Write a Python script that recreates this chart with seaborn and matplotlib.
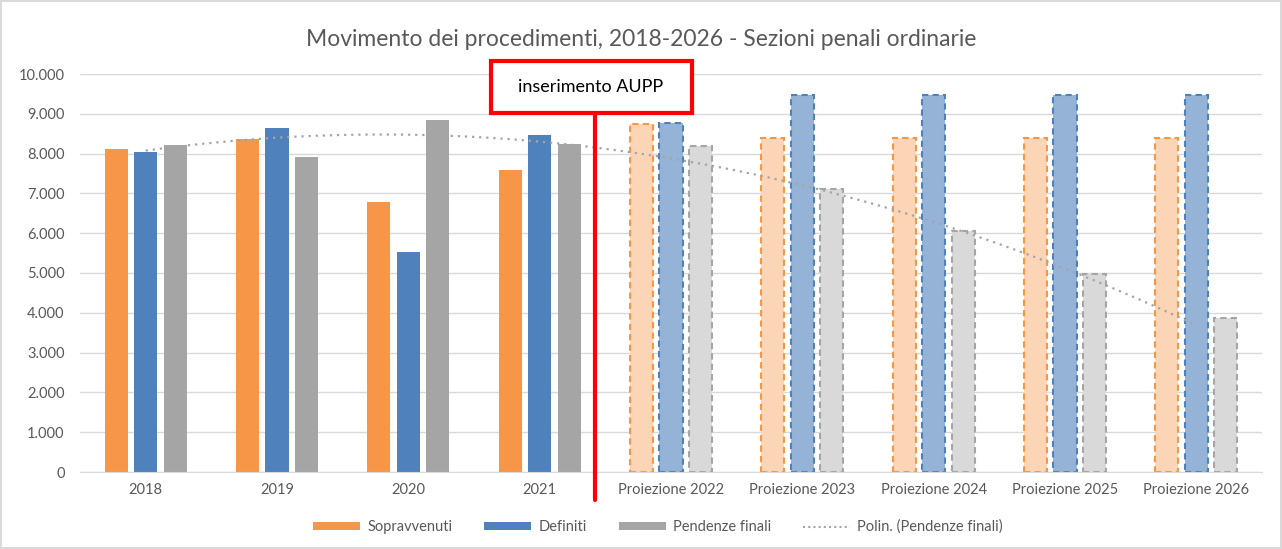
import numpy as np
import pandas as pd
import matplotlib
matplotlib.use("Agg")
import matplotlib.pyplot as plt
import seaborn as sns
from matplotlib.patches import Rectangle, Patch
from matplotlib.lines import Line2D
from matplotlib.ticker import FuncFormatter, MultipleLocator

# Dati
categorie = ["2018", "2019", "2020", "2021", "Proiezione 2022", "Proiezione 2023",
             "Proiezione 2024", "Proiezione 2025", "Proiezione 2026"]
sopravvenuti = [8120, 8370, 6780, 7590, 8740, 8390, 8390, 8390, 8390]
definiti = [8040, 8640, 5530, 8470, 8770, 9470, 9470, 9470, 9470]
pendenze = [8220, 7910, 8840, 8240, 8190, 7110, 6060, 4970, 3870]
serie = ["Sopravvenuti", "Definiti", "Pendenze finali"]
n_reali = 4  # prime 4 categorie sono dati reali, il resto proiezioni

colori = ["#F79646", "#4F81BD", "#A5A5A5"]
colori_chiari = ["#FBD5B5", "#95B3D7", "#D9D9D9"]

df = pd.DataFrame({
    "Categoria": categorie * 3,
    "Serie": [s for s in serie for _ in categorie],
    "Valore": sopravvenuti + definiti + pendenze,
})

sns.set_style("white")
plt.rcParams["font.family"] = ["Lato", "DejaVu Sans"]

fig = plt.figure(figsize=(12.82, 5.49), dpi=100)
ax = fig.add_axes([80 / 1282, 1 - 472 / 549, 1182 / 1282, 398 / 549])

sns.barplot(data=df, x="Categoria", y="Valore", hue="Serie", hue_order=serie,
            palette=colori, width=0.675, gap=0.22, ax=ax, legend=False,
            saturation=1, zorder=2)

# stile tratteggiato per le proiezioni
for k, cont in enumerate(ax.containers):
    for i, bar in enumerate(cont):
        if i >= n_reali:
            bar.set_facecolor(colori_chiari[k])
            bar.set_edgecolor(colori[k])
            bar.set_linestyle((0, (3, 2)))
            bar.set_linewidth(1.5)
        else:
            bar.set_edgecolor("none")

# linea di tendenza polinomiale (grado 2) sulle pendenze finali
xs = np.arange(len(categorie))
coef = np.polyfit(xs, pendenze, 2)
xx = np.linspace(0, len(categorie) - 1, 200)
ax.plot(xx, np.polyval(coef, xx), color="#A5A5A5", linestyle=(0, (1, 2.2)),
        linewidth=1.6, zorder=3)

ax.set_xlim(-0.5, len(categorie) - 0.5)
ax.set_ylim(0, 10000)
ax.yaxis.set_major_locator(MultipleLocator(1000))
ax.yaxis.set_major_formatter(FuncFormatter(lambda v, p: f"{int(v):,}".replace(",", ".")))
ax.grid(axis="y", color="#D9D9D9", linewidth=1, zorder=0)
ax.set_axisbelow(True)
for s in ["top", "right", "left"]:
    ax.spines[s].set_visible(False)
ax.spines["bottom"].set_color("#D9D9D9")
ax.tick_params(axis="both", length=0, labelsize=10.5, colors="#595959")
ax.tick_params(axis="y", pad=11)
ax.tick_params(axis="x", pad=8)
ax.set_xlabel("")
ax.set_ylabel("")

fig.text(0.5, 1 - 40 / 549, "Movimento dei procedimenti, 2018-2026 - Sezioni penali ordinarie",
         ha="center", va="center", fontsize=16.5, color="#595959")

# riquadro e linea rossa "inserimento AUPP"
fig.add_artist(Line2D([595 / 1282, 595 / 1282], [1 - 500 / 549, 1 - 113 / 549],
                      transform=fig.transFigure, color="red", linewidth=3, zorder=10))
fig.add_artist(Rectangle((491 / 1282, 1 - 113 / 549), 201 / 1282, 52 / 549,
                         transform=fig.transFigure, facecolor="white", edgecolor="red",
                         linewidth=3, zorder=10))
fig.text(591 / 1282, 1 - 87 / 549, "inserimento AUPP", ha="center", va="center",
         fontsize=13, color="black", zorder=11)

handles = [Patch(facecolor=c, edgecolor="none") for c in colori]
handles.append(Line2D([0], [0], color="#A5A5A5", linestyle=(0, (1, 1.5)), linewidth=1.5))
fig.legend(handles, serie + ["Polin. (Pendenze finali)"], loc="center",
           bbox_to_anchor=(658 / 1282, 1 - 527 / 549), ncol=4, frameon=False,
           fontsize=10.5, labelcolor="#595959", handlelength=3.2, handleheight=0.5,
           columnspacing=2.2, handletextpad=0.5)

fig.patch.set_edgecolor("#D9D9D9")
fig.patch.set_linewidth(1.5)
fig.savefig("out.png", dpi=100, facecolor="white", edgecolor=fig.get_edgecolor())
